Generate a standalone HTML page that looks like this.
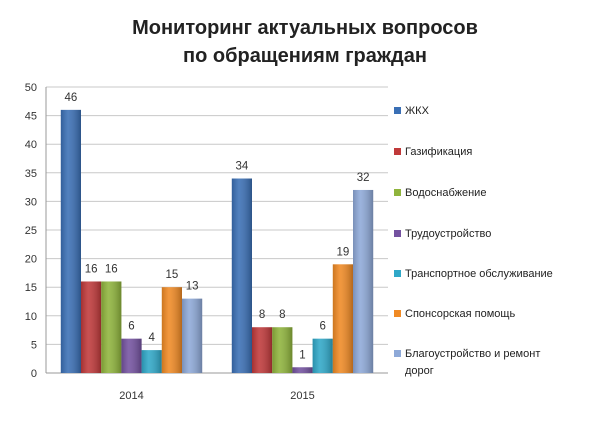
<!DOCTYPE html>
<html><head><meta charset="utf-8"><style>
body{margin:0;background:#fff;}
svg text{font-family:"Liberation Sans","DejaVu Sans",sans-serif;}
</style></head><body>
<svg id="chart" width="610" height="420" xmlns="http://www.w3.org/2000/svg">
<defs>
<linearGradient id="sh" x1="0" x2="1" y1="0" y2="0">
<stop offset="0" stop-color="#000" stop-opacity="0.15"/><stop offset="0.35" stop-color="#fff" stop-opacity="0.12"/><stop offset="1" stop-color="#000" stop-opacity="0.25"/>
</linearGradient>
</defs>
<text x="305" y="34" text-anchor="middle" font-size="20" font-weight="bold" fill="#222">Мониторинг актуальных вопросов</text>
<text x="305" y="62" text-anchor="middle" font-size="20" font-weight="bold" fill="#222">по обращениям граждан</text>
<g id="grid"></g><g id="bars"></g><g id="labels"></g><g id="legend"></g>
</svg>
<script>
const categories=["2014","2015"];
const seriesNames=["ЖКХ","Газификация","Водоснабжение","Трудоустройство","Транспортное обслуживание","Спонсорская помощь","Благоустройство и ремонт дороги"];
const values2014=[46,16,16,6,4,15,13];
const values2015=[34,8,8,1,6,19,32];
const yTicks=[0,5,10,15,20,25,30,35,40,45,50];
const colors=["#3a6fb5","#c0393a","#8fb43c","#7452a0","#2fa8c8","#f08a24","#8ea9d8"];
const seriesVals=[values2014,values2015];
const NS="http://www.w3.org/2000/svg";
const L=46,R=388,Y0=373,Y50=87;
const y=v=>Y0-(v/50)*(Y0-Y50);
const catW=(R-L)/categories.length, barW=20.2;
function mk(tag,attrs,parent){const e=document.createElementNS(NS,tag);for(const k in attrs)e.setAttribute(k,attrs[k]);parent.appendChild(e);return e;}
const grid=document.getElementById('grid'),bars=document.getElementById('bars'),labels=document.getElementById('labels'),legend=document.getElementById('legend');
yTicks.forEach(t=>{
 const ln=mk('line',{x1:L,x2:R,y1:y(t),y2:y(t),stroke:t===0?'#999':'#c8c8c8','stroke-width':1},grid);
 
 
 const tx=mk('text',{x:L-9,y:y(t)+4,'text-anchor':'end','font-size':11,fill:'#333'},grid);
 tx.textContent=t;
 
 
});
const ax=mk('line',{x1:L,x2:L,y1:Y50,y2:Y0,stroke:'#999'},grid);


categories.forEach((c,ci)=>{
 const cx=L+catW*(ci+0.5);
 const start=cx-barW*seriesNames.length/2;
 seriesVals[ci].forEach((v,si)=>{
  const x=start+si*barW, top=y(v);
  const r=mk('rect',{x:x,y:top,width:barW,height:Y0-top,fill:colors[si]},bars);
  
  
  const s=mk('rect',{x:x,y:top,width:barW,height:Y0-top,fill:'url(#sh)'},bars);
  
  
  const t=mk('text',{x:x+barW/2,y:top-9,'text-anchor':'middle','font-size':11.5,fill:'#333'},labels);
  t.textContent=v;
  
  
 });
 const xl=mk('text',{x:cx,y:399,'text-anchor':'middle','font-size':11,fill:'#333'},labels);
 xl.textContent=c;
 
 
});
const ly=[114,155,196,237,277,317,357];
seriesNames.forEach((n,i)=>{
 const g=mk('g',{},legend);
 
 
 mk('rect',{x:394,y:ly[i]-7,width:7,height:7,fill:colors[i]},g);
 if(i===6){
  const t=mk('text',{x:405,y:ly[i],'font-size':11,fill:'#222'},g);t.textContent="Благоустройство и ремонт";
  const t2=mk('text',{x:405,y:ly[i]+17,'font-size':11,fill:'#222'},g);t2.textContent="дорог";
 } else {
  const t=mk('text',{x:405,y:ly[i],'font-size':11,fill:'#222'},g);t.textContent=n;
 }
});
</script>
</body></html>
